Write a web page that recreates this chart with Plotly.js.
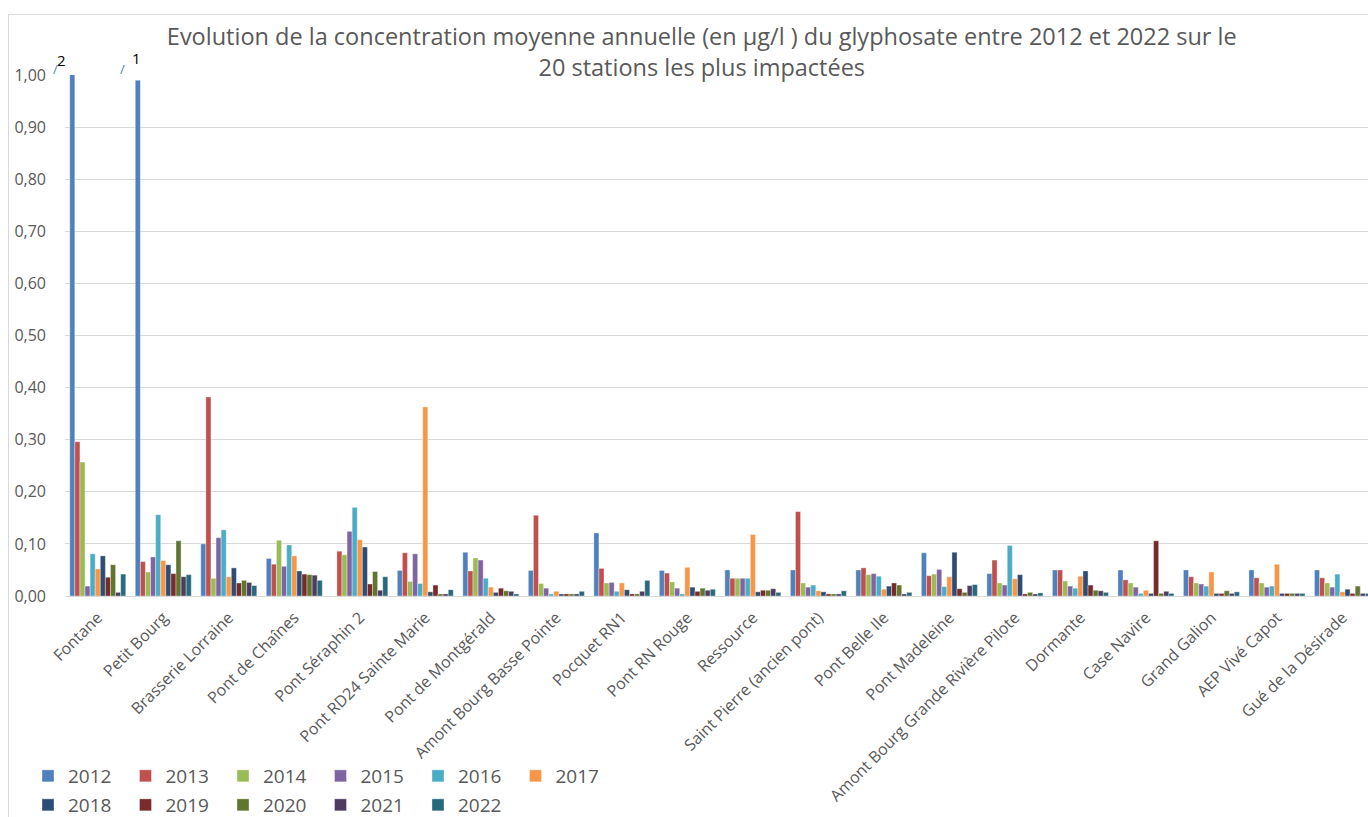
<!DOCTYPE html>
<html>
<head>
<meta charset="utf-8">
<script src="https://cdn.plot.ly/plotly-3.0.1.min.js"></script>
<style>
html,body{margin:0;padding:0;background:#fff;}
#chart{width:1368px;height:817px;position:absolute;left:0;top:0;}
#frame{position:absolute;left:8px;top:14px;width:1400px;height:900px;border-left:1px solid #d9d9d9;border-top:1px solid #d9d9d9;pointer-events:none;}
</style>
</head>
<body>
<div id="chart"></div>
<div id="frame"></div>
<script>
const stations = ["Fontane","Petit Bourg","Brasserie Lorraine","Pont de Chaînes","Pont Séraphin 2","Pont RD24 Sainte Marie","Pont de Montgérald","Amont Bourg Basse Pointe","Pocquet RN1","Pont RN Rouge","Ressource","Saint Pierre (ancien pont)","Pont Belle Ile","Pont Madeleine","Amont Bourg Grande Rivière Pilote","Dormante","Case Navire","Grand Galion","AEP Vivé Capot","Gué de la Désirade"];
const years = ["2012","2013","2014","2015","2016","2017","2018","2019","2020","2021","2022"];
const v2012 = [2, 0.99, 0.100, 0.072, 0, 0.049, 0.084, 0.049, 0.121, 0.049, 0.050, 0.050, 0.050, 0.083, 0.043, 0.050, 0.050, 0.050, 0.050, 0.050];
const v2013 = [0.296, 0.066, 0.382, 0.061, 0.086, 0.083, 0.048, 0.155, 0.053, 0.044, 0.034, 0.162, 0.054, 0.039, 0.069, 0.050, 0.031, 0.037, 0.035, 0.035];
const v2014 = [0.257, 0.046, 0.034, 0.107, 0.079, 0.028, 0.073, 0.024, 0.025, 0.027, 0.034, 0.025, 0.041, 0.042, 0.025, 0.029, 0.025, 0.025, 0.025, 0.025];
const v2015 = [0.019, 0.075, 0.112, 0.057, 0.124, 0.081, 0.069, 0.015, 0.026, 0.015, 0.034, 0.017, 0.043, 0.051, 0.021, 0.019, 0.017, 0.023, 0.017, 0.017];
const v2016 = [0.081, 0.156, 0.127, 0.098, 0.170, 0.024, 0.034, 0.004, 0.009, 0.004, 0.034, 0.021, 0.038, 0.018, 0.097, 0.015, 0.005, 0.019, 0.019, 0.042];
const v2017 = [0.052, 0.068, 0.037, 0.077, 0.108, 0.363, 0.017, 0.009, 0.025, 0.055, 0.118, 0.010, 0.013, 0.037, 0.033, 0.038, 0.011, 0.046, 0.061, 0.008];
const v2018 = [0.077, 0.060, 0.054, 0.048, 0.094, 0.008, 0.007, 0.004, 0.012, 0.017, 0.008, 0.008, 0.019, 0.084, 0.041, 0.048, 0.005, 0.005, 0.005, 0.013];
const v2019 = [0.036, 0.043, 0.025, 0.042, 0.023, 0.021, 0.015, 0.004, 0.004, 0.009, 0.011, 0.004, 0.025, 0.014, 0.004, 0.021, 0.106, 0.005, 0.005, 0.005];
const v2020 = [0.060, 0.106, 0.030, 0.041, 0.047, 0.004, 0.010, 0.004, 0.004, 0.015, 0.011, 0.004, 0.021, 0.007, 0.007, 0.011, 0.005, 0.010, 0.005, 0.019];
const v2021 = [0.007, 0.037, 0.026, 0.040, 0.011, 0.004, 0.009, 0.004, 0.009, 0.011, 0.014, 0.004, 0.004, 0.020, 0.004, 0.010, 0.009, 0.005, 0.005, 0.005];
const v2022 = [0.042, 0.041, 0.020, 0.030, 0.037, 0.012, 0.004, 0.009, 0.030, 0.013, 0.007, 0.010, 0.007, 0.022, 0.006, 0.007, 0.005, 0.008, 0.005, 0.005];
const yTicks = [0,0.1,0.2,0.3,0.4,0.5,0.6,0.7,0.8,0.9,1.0];

const series = [v2012,v2013,v2014,v2015,v2016,v2017,v2018,v2019,v2020,v2021,v2022];
const colors = ["#4F81BD","#C0504D","#9BBB59","#8064A2","#4BACC6","#F79646","#2C4D75","#772C2A","#5F7530","#4D3B62","#276A7C"];

const traces = series.map((vals,i)=>({
  type:'bar', name:years[i], x:stations, y:vals,
  marker:{color:colors[i], line:{color:'rgba(255,255,255,0.6)', width:0.6}},
  legend: i<6 ? 'legend' : 'legend2',
  hoverinfo:'x+y+name'
}));

const txt = '#595959';
const font = "Open Sans, Noto Sans, sans-serif";

const layout = {
  width:1368, height:817,
  margin:{l:65, r:0, t:75, b:221},
  paper_bgcolor:'rgba(0,0,0,0)', plot_bgcolor:'rgba(0,0,0,0)',
  separators:',.',
  font:{family:font, color:txt, size:16},
  title:{text:'Evolution de la concentration moyenne annuelle (en µg/l ) du glyphosate entre 2012 et 2022 sur le<br>20 stations les plus impactées',
    font:{size:23.5, color:txt, family:font}, x:0.513, xanchor:'center', xref:'container', y:1-45/817, yanchor:'top', yref:'container'},
  barmode:'group', bargap:0.145, bargroupgap:0,
  xaxis:{type:'category', range:[-0.5,19.39], tickangle:-45, showline:true, linecolor:'#d9d9d9', linewidth:1,
    showgrid:false, ticks:'', ticklabelstandoff:5, tickfont:{size:16, color:txt, family:font}, fixedrange:true},
  yaxis:{range:[0,1.0], tickvals:yTicks, tickformat:'.2f', showgrid:true, gridcolor:'#d9d9d9', gridwidth:1,
    zeroline:false, showline:false, ticks:'', ticklabelstandoff:18, tickfont:{size:16, color:txt, family:font}, fixedrange:true},
  legend:{orientation:'h', xref:'container', yref:'container', x:28/1368, y:1-757/817, xanchor:'left', yanchor:'top',
    itemwidth:30, entrywidth:52.5, entrywidthmode:'pixels', font:{size:19, color:txt, family:font}, traceorder:'normal', itemclick:false},
  legend2:{orientation:'h', xref:'container', yref:'container', x:28/1368, y:1-786/817, xanchor:'left', yanchor:'top',
    itemwidth:30, entrywidth:52.5, entrywidthmode:'pixels', font:{size:19, color:txt, family:font}, traceorder:'normal', itemclick:false},
  showlegend:true,
  annotations:[
    {x:stations[0], y:1, xref:'x', yref:'y', text:'2', showarrow:false, xshift:-36, yshift:15, font:{size:15, color:'#000', family:font}},
    {x:stations[0], y:1, xref:'x', yref:'y', text:'/', showarrow:false, xshift:-42, yshift:6, font:{size:13, color:'#4F81BD', family:font}},
    {x:stations[1], y:1, xref:'x', yref:'y', text:'1', showarrow:false, xshift:-27, yshift:17, font:{size:15, color:'#000', family:font}},
    {x:stations[1], y:1, xref:'x', yref:'y', text:'/', showarrow:false, xshift:-41, yshift:6, font:{size:13, color:'#4F81BD', family:font}}
  ]
};

Plotly.newPlot('chart', traces, layout, {displayModeBar:false, staticPlot:true});
</script>
</body>
</html>
